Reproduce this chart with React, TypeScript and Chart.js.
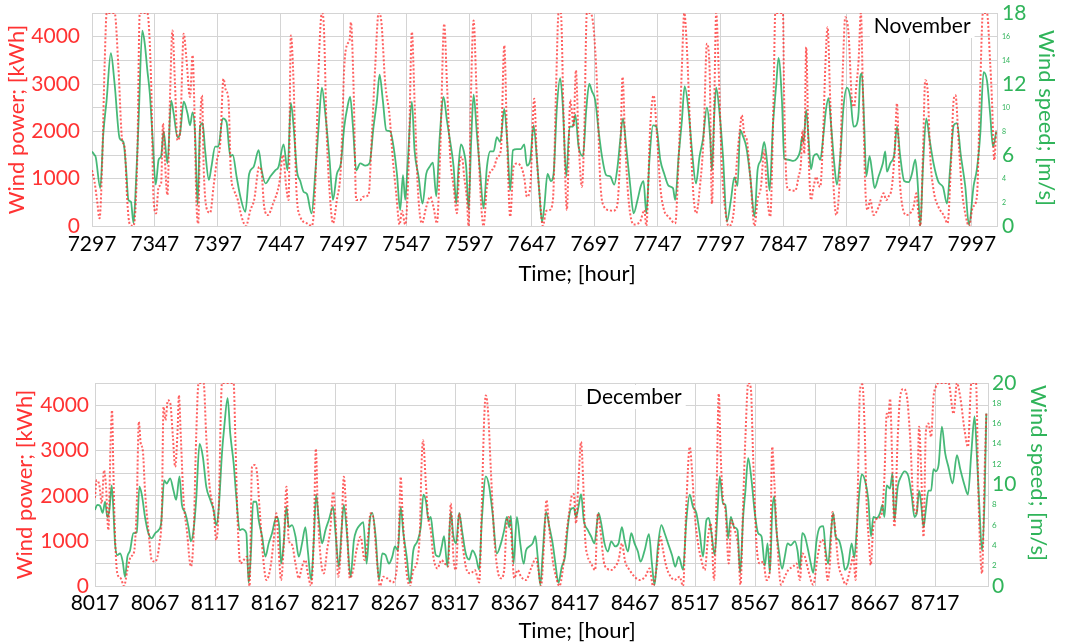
import { useEffect, useRef } from 'react';
import { Chart, registerables } from 'chart.js';
Chart.register(...registerables);

const FONT = 'Lato, "Open Sans", sans-serif';
const RED_LINE = 'rgba(255, 35, 35, 0.72)';
const RED_TEXT = '#ff3333';
const GREEN_LINE = 'rgba(30, 170, 90, 0.82)';
const GREEN_TEXT = '#30b45a';
const GRID = '#d4d4d4';

// ---------------- November ----------------
const novHourTicks = [7297, 7347, 7397, 7447, 7497, 7547, 7597, 7647, 7697, 7747, 7797, 7847, 7897, 7947, 7997];
const novPowerHours = [
  7297,7299,7301,7303,7305,7307,7308.7,7315,7318,7321,7323,7325,7327,7330,7333,7335,7341,7344,7346,7348,
  7350,7352,7353.5,7355,7357,7359,7361,7363,7365,7367,7370,7372,7375,7377,7378.5,7380,7381.5,7383,7384.5,7386,
  7388.6,7391,7393.7,7396.4,7399,7401.6,7403.5,7405.6,7407.5,7410,7413,7416,7419.5,7423,7426,7430,7432,7434,7437,7441,
  7446,7448.9,7451.5,7453.4,7455.2,7457.4,7459.5,7462.7,7468,7471.9,7474.6,7477.3,7479.9,7481.2,7483.9,7486.5,7488.7,7491.8,7495,7497.7,
  7500.3,7501.9,7503,7505.1,7507.2,7510.4,7513,7517,7519.7,7522.3,7525,7527.1,7530.3,7533.7,7536.4,7539,7541.7,7543.6,7546.2,7548.9,
  7551.5,7553.6,7556.3,7559.5,7562.9,7566.1,7568.7,7571.4,7574,7577.2,7579.4,7582,7584.7,7587.3,7589.4,7591.3,7593.1,7595.3,7596.6,7598.4,
  7600.6,7602.7,7605.3,7608.5,7611.2,7613.8,7616.5,7619.7,7622.3,7625,7627.1,7629.7,7632.4,7635,7639,7641,7643,7645.7,7648.8,7651,
  7653,7655.7,7658.4,7661,7663.7,7666.3,7668.2,7670,7672.2,7674.8,7677.5,7678.8,7680.1,7682,7684.1,7686.8,7688.6,7690.7,7693.4,7696,
  7698.7,7701.3,7704.5,7708,7711.4,7714.6,7717.3,7719.1,7721.2,7723.9,7727.9,7733.2,7736.4,7738,7741.1,7743.8,7746.4,7749.1,7752.3,7755.7,
  7761,7763.7,7766.3,7768.2,7770.3,7773,7775.6,7777.7,7780.9,7783.6,7786.2,7788.3,7790.2,7792.1,7793.6,7795.5,7798.1,7800.8,7803.5,7807.4,
  7810.1,7812.7,7814,7815.9,7818,7820.7,7824.1,7826.5,7829.2,7831.8,7833.9,7836.6,7839.2,7840.6,7846.7,7847.7,7849.9,7852.5,7856.5,7859.1,
  7861,7862.3,7863.7,7865.2,7867.1,7869,7871.1,7873.2,7875,7876.4,7878.5,7880.4,7882.2,7884.3,7887,7889.1,7891.8,7894.4,7896.3,7898.9,
  7901.6,7903.4,7905,7906.9,7908.7,7910.3,7912.2,7914,7916.2,7918.8,7922.8,7926.8,7928.9,7930.7,7933.4,7935.5,7937.4,7939.5,7941.4,7945.3,
  7948,7950.6,7952.8,7954.6,7956,7958.1,7959.9,7961.8,7963.9,7966.5,7970.5,7974.5,7977.7,7980.3,7982.5,7984,7986.4,7989.1,7991.7,7994.7,
  7997.8,8001,8003.7,8005.8,8009,8011.6,8013,8014.8,8016.4,
];
const novPowerKWh = [
  1180,935,550,162,1250,3360,4500,4500,3360,1810,1660,550,40,0,1390,4500,4500,3080,550,267,
  830,900,2165,1390,655,2660,4130,3010,1810,1955,4060,3570,2725,3605,2445,553,50,2095,2760,1110,
  337,280,830,1390,1740,3110,2865,2660,1110,760,550,197,0,337,550,1250,1110,400,230,470,
  900,1497,830,550,4026,3010,830,197,57,0,830,3360,4500,4340,1810,550,57,550,1250,3360,
  3850,3920,4305,2935,550,550,620,655,1955,3360,4500,4340,3010,2340,1390,690,30,320,30,1250,
  4100,2660,760,57,400,620,400,57,1530,4270,3010,1460,830,270,1320,1460,1040,550,0,2660,
  4340,3010,1110,0,830,1145,1215,1460,1600,3815,1955,197,1250,1320,1215,1000,620,830,2690,1390,
  690,0,320,337,550,3010,4500,4500,2305,337,2660,2410,2095,3290,1810,830,1955,4500,4500,4200,
  3010,970,400,337,320,400,1530,3150,1740,550,30,100,337,0,2095,2760,1955,830,320,197,
  57,1390,3360,4500,3750,1955,620,270,900,1880,3850,3360,470,2660,4500,3360,1250,337,0,270,
  1390,2095,2340,1955,1810,1040,0,550,830,1600,725,197,2660,4500,4500,2660,830,760,745,1040,
  1320,2025,1530,3780,1530,550,830,1040,865,830,1810,3360,4200,2660,830,232,970,3360,4410,4060,
  2660,2520,2940,3500,4500,2865,830,337,550,232,400,690,550,620,830,1530,2590,1040,470,232,
  270,400,690,232,0,1530,3080,2865,1460,760,400,232,57,1250,2660,2760,1810,760,270,0,
  400,620,3010,4500,4500,3430,2660,1390,2025,
];
const novWindHours = [
  7297,7299,7300,7303.6,7306,7308.6,7312,7315,7319,7322,7324,7326,7328,7330,7331.5,7334,7337,7339,7341,7343,
  7345,7347.7,7350,7352,7354,7357,7360,7362,7365,7367,7370,7373,7375,7377,7379,7381,7383,7385,7387,7390,
  7392,7395,7397.5,7401,7404,7407,7409,7412,7415,7419,7422,7425.6,7429.6,7432,7435,7439,7442.8,7445.4,7449.4,7452.6,
  7455.2,7457.4,7460,7462.7,7465.3,7468,7471.7,7474.6,7477.3,7479.9,7482.6,7486,7488.7,7491.8,7495,7497.7,7500.3,7502.4,7504.6,7507.2,
  7510.4,7514.4,7517.8,7521,7523.7,7525.8,7528.4,7531.1,7534.3,7536.9,7539.6,7542.2,7544.4,7546.2,7548,7551.5,7553.6,7556.8,7560,7562.9,
  7565.6,7568.2,7570.9,7573.5,7576.7,7579.4,7582,7584.7,7586.8,7588.6,7590.5,7592.6,7594.7,7596.6,7598.7,7600.6,7603.2,7605.9,7608.5,7611.2,
  7613.8,7616.5,7619.1,7621.8,7625,7627.6,7629.7,7631.9,7635,7638.2,7640.9,7643,7645.7,7648.3,7651,7653,7655,7656.8,7659.4,7662.1,
  7664.2,7666.9,7669.5,7671.6,7674.3,7677,7679.6,7681.5,7684.1,7687.6,7690.2,7692.6,7694.7,7697.4,7700,7702.7,7706.1,7709.3,7712.5,7715.1,
  7717.3,7719.4,7722,7725.2,7727.9,7731,7733.7,7735.8,7738,7740.6,7743.3,7745.9,7749.1,7752.3,7755.7,7759.2,7761,7763.7,7766.3,7768.5,
  7771.6,7774.3,7777.5,7780.4,7783,7786.2,7788.9,7790.2,7792.1,7793.6,7796.3,7799,7802.1,7805.3,7808,7810.6,7812.7,7814.9,7817.5,7820.7,
  7824.1,7826.5,7829.2,7831.8,7833.9,7836.1,7838.7,7841.4,7843.2,7845.9,7847.7,7851,7855,7857.8,7860.5,7861.8,7863.1,7865.2,7867.1,7869,
  7871.1,7873.7,7876.4,7879,7880.9,7883,7885.1,7887.5,7889.6,7892.3,7894.9,7897.6,7900.3,7902.9,7905,7906.9,7908.2,7909.5,7911.4,7913,
  7915.6,7917.5,7919.6,7922.8,7926.2,7928.1,7929.4,7932.1,7935.3,7937.4,7940,7943.2,7946.7,7949.3,7952,7953.8,7956,7958.1,7960.7,7963.4,
  7966.5,7970.5,7974,7977.2,7979.8,7982.5,7985.1,7988.3,7991.7,7994.7,7998.4,8001,8003.7,8006.3,8009,8011.6,8013.8,8016.4,
];
const novWindMs = [
  6.3,6.0,5.8,3.2,7.8,10.6,14.6,12.0,7.4,7.1,5.0,2.2,2.05,0.25,2.5,8.7,16.5,15.4,13.2,11.2,
  7.8,3.5,5.6,5.9,8.0,5.3,10.6,9.5,7.5,7.8,10.5,9.5,8.5,9.6,7.8,1.8,8.4,8.7,6.4,3.9,
  5.0,6.7,6.7,9.1,8.8,5.9,6.0,4.2,2.5,1.2,4.4,5.0,6.4,4.7,3.6,4.2,4.7,5.0,6.9,4.7,
  10.4,8.4,4.7,3.8,2.9,2.7,1.07,4.4,8.4,11.7,9.5,5.6,2.2,4.4,5.3,8.4,10.1,10.9,8.4,4.7,
  5.3,5.1,5.3,8.4,10.6,12.8,10.6,8.1,8.0,6.7,4.4,1.35,4.3,2.2,5.0,10.5,6.4,4.2,1.9,4.4,
  5.0,5.35,2.5,7.3,10.9,8.9,7.1,5.0,1.9,5.0,6.9,6.4,5.0,1.4,7.3,11.1,7.8,4.4,1.5,5.0,
  6.3,6.3,7.5,7.1,9.9,6.7,3.0,6.4,6.5,6.5,6.9,5.1,5.6,8.5,5.6,2.7,0.36,1.6,4.4,3.8,
  4.4,10.1,12.5,10.1,4.2,8.4,8.4,9.4,6.7,5.9,9.8,12.0,11.4,10.6,8.1,5.9,4.3,4.2,3.5,5.0,
  7.3,9.1,6.7,3.4,1.07,2.2,3.4,3.8,1.07,5.8,8.5,8.4,5.6,4.4,3.4,3.2,2.2,5.9,8.9,11.8,
  9.8,6.4,3.6,5.9,7.3,10.0,7.3,4.7,9.5,11.7,9.5,5.9,0.36,2.2,4.1,3.4,8.1,7.6,6.7,4.2,
  0.8,4.7,5.6,7.1,5.6,3.0,8.4,12.0,14.2,10.6,5.7,5.6,5.5,5.7,6.4,7.5,7.1,9.8,7.3,4.8,
  5.9,6.1,5.6,7.8,9.8,10.8,8.4,5.3,3.5,5.9,10.1,11.7,10.9,8.4,8.5,9.6,12.6,12.9,8.4,4.2,
  5.9,4.7,3.2,4.2,5.3,6.3,4.6,5.3,6.1,8.4,5.9,3.8,3.7,4.4,5.6,3.8,0,5.0,9.1,7.3,
  5.3,3.7,3.3,1.9,5.0,8.5,8.7,5.9,3.4,0.1,3.4,4.8,7.8,13.0,12.3,9.4,6.7,8.0,
];

// ---------------- December ----------------
const decHourTicks = [8017, 8067, 8117, 8167, 8217, 8267, 8317, 8367, 8417, 8467, 8517, 8567, 8617, 8667, 8717];
const decPowerHours = [
  8017,8018.4,8020.6,8022.6,8024.5,8026.2,8028.1,8030.1,8031.2,8032.3,8033.7,8035.6,8038.4,8041.2,8044,8046.8,8049.6,8051.8,8053.5,8055.1,
  8056.8,8058.8,8061.5,8064.3,8067.1,8070.7,8072.7,8074.1,8075.7,8077.7,8079.6,8081.9,8083.8,8085.8,8086.9,8088.5,8090.8,8093.5,8096.9,8099.1,
  8101.3,8103.3,8107.5,8109.7,8112.5,8115.8,8118,8120,8122.8,8132.5,8133.9,8135.8,8138.1,8140.9,8143.6,8145.8,8147.8,8149.8,8151.7,8154.2,
  8157,8159.8,8163.1,8165.9,8168.1,8170,8172,8174.2,8176.5,8178.4,8181.2,8184,8186.8,8189.5,8192.3,8194.3,8197.1,8199.3,8201,8202.6,
  8204.9,8207.6,8210.4,8213.2,8215.4,8217.4,8219.6,8222.1,8224.3,8226.6,8229.3,8232.1,8234.9,8238.3,8241.6,8244.4,8246.6,8248.8,8251.6,8254.4,
  8257.2,8260.5,8264.7,8268.3,8270.3,8271.7,8273.1,8275.8,8279.4,8282.2,8285.6,8287.8,8288.9,8290.3,8292.5,8294.5,8296.7,8298.9,8302.3,8305.6,
  8308.4,8311.2,8313.4,8315.6,8317.6,8320.4,8323.1,8326.7,8330.1,8333.4,8337.1,8339.3,8341.2,8342.6,8344.6,8346.8,8349.6,8352.4,8355.2,8357.9,
  8360.2,8361.6,8363.5,8366.3,8369.1,8372,8376.1,8380.3,8384.4,8386.4,8388.6,8391.4,8393.1,8395.6,8398.3,8401.1,8403.9,8406.7,8409.5,8412.3,
  8414.2,8415.9,8417.8,8419.8,8422,8423.7,8425.3,8427.6,8430.3,8433.7,8435.9,8438.1,8440.9,8443.7,8447.1,8450.4,8453.2,8456,8458.7,8462.4,
  8466.5,8470.7,8475.4,8479.1,8481.9,8484.6,8488.2,8490.2,8493,8496.6,8499.9,8504.1,8506.9,8509.7,8512.5,8514.4,8516.6,8519.4,8522.2,8525,
  8527.8,8530,8532.8,8534.7,8536.7,8538.3,8540.3,8542.2,8545,8547.2,8550,8552.8,8554.8,8557,8558.9,8561.2,8563.4,8565.3,8568.1,8570.9,
  8573.7,8576.5,8579.3,8581.2,8582.9,8585.7,8588.5,8591.7,8594.5,8598.7,8601.5,8604.3,8606.2,8608.4,8611.2,8615.4,8619,8622.4,8624.6,8627.4,
  8629.3,8631.5,8633.5,8636.3,8639.6,8642.4,8646,8648.8,8650.7,8652.4,8654.4,8656.3,8658,8659.9,8661.9,8663.3,8665.5,8669.1,8672.5,8674.7,
  8676.6,8678,8679.4,8681.4,8683,8685.8,8687.8,8690.5,8693.3,8696.1,8698.9,8701.7,8703.6,8705.3,8707.3,8709.2,8711.4,8713.6,8715.6,8717.5,
  8719.8,8728.1,8732.3,8735.1,8737.9,8741.5,8744.3,8747.1,8751,8753.2,8756,8758.2,8759.6,
];
const decPowerKWh = [
  1955,2345,2240,1830,2565,2200,1240,3305,3895,2565,1090,280,170,0,354,650,760,1830,3640,3160,
  3010,2050,1240,575,540,945,1680,3970,3675,4115,4065,3305,2640,3450,4225,3305,1905,1240,430,1090,
  3305,4500,4500,3305,2200,1680,1020,1680,4500,4500,3305,1460,500,575,650,0,2640,2680,2565,1680,
  650,133,400,1020,1610,800,133,870,2200,1020,910,500,170,430,575,280,0,1090,3045,1680,
  650,280,800,1310,2090,1460,205,945,2420,1460,170,354,800,1090,575,1090,1610,1530,650,0,
  205,170,80,354,1310,2420,1680,500,0,354,575,1310,2565,3230,2345,1530,1240,650,390,575,
  500,430,1830,650,354,1610,945,354,280,354,80,1830,3675,4225,3820,2565,1090,354,170,354,
  1460,1530,1240,170,354,205,133,390,610,354,0,1090,1905,1240,575,205,0,354,1090,1680,
  2000,2040,1390,2345,3195,2345,1090,650,500,354,1610,1240,540,390,354,430,575,945,540,354,
  205,133,205,390,0,354,1090,800,430,205,133,205,0,1830,3085,2565,1610,945,575,354,
  1090,1390,133,1830,4265,2875,1905,1680,500,1460,1240,870,30,1830,3305,4500,4385,2875,945,500,
  540,133,354,3085,2345,870,30,205,354,430,500,133,720,650,354,30,650,1020,945,133,
  500,1640,1310,500,205,30,354,650,133,1975,4360,4470,3675,1830,945,465,1310,1500,1610,2420,
  3820,3750,4150,2565,1310,3305,4185,4370,4225,3305,1830,1610,3530,2565,1090,3420,3600,3305,4185,4410,
  4500,4500,3820,4500,4185,3450,3085,4500,4500,1830,280,2565,3820,
];
const decWindHours = [
  8017,8019,8021.2,8023.4,8025.4,8027.3,8029,8030.9,8032.3,8033.7,8035.6,8037.9,8040.1,8042,8044,8046.2,8049,8051.8,8054,8056,
  8058.8,8061.5,8064.3,8067.1,8069.9,8072.1,8074.6,8076.8,8079.6,8082.4,8084.6,8087.4,8089.4,8092.2,8094.9,8096.9,8099.1,8101.3,8104.1,8106.9,
  8109.7,8113,8115.8,8118,8120,8122.8,8124.7,8127.5,8129.7,8132.5,8134.7,8137.5,8139.5,8143.1,8145,8147,8148.7,8151.4,8153.4,8156.2,
  8159,8161.7,8164.5,8168.1,8170.5,8172,8174.2,8176.5,8178.4,8181.2,8184,8186.8,8189.5,8192.3,8194.3,8197.1,8199.3,8201.2,8203.5,8206.2,
  8209,8211.8,8215.4,8217.4,8220.2,8222.4,8224.3,8227.1,8229.9,8232.7,8234.9,8237.7,8240.5,8243.3,8246,8248,8250.8,8253.6,8256.3,8259.1,
  8261.9,8264.7,8266.9,8269.4,8271.7,8273.9,8276.7,8279.4,8282.2,8285.6,8288.4,8290.6,8292.8,8294.8,8296.7,8298.7,8300.9,8303.7,8305.9,8307.8,
  8310.6,8313.4,8315.6,8317.9,8320.4,8323.1,8325.9,8328.7,8331.5,8334.3,8337.1,8339.3,8342.6,8345.4,8348.2,8351.8,8355.2,8357.9,8360.2,8362.1,
  8363.5,8365.7,8368.5,8371.3,8374.1,8376.1,8378.9,8381.6,8383.9,8385.8,8388,8390,8392.8,8395.6,8398.3,8400.6,8403.1,8405.9,8408.6,8410.9,
  8413.1,8415.9,8417.8,8419.8,8422,8424.2,8427.6,8430.3,8433.1,8436.5,8438.7,8441.5,8444.3,8447.1,8450.4,8453.2,8456,8458.2,8461,8463.8,
  8466.5,8469.3,8471.5,8474.9,8478.5,8481,8483.2,8486,8488.8,8491.6,8494.4,8497.7,8500.5,8503.3,8506.9,8509.7,8512.5,8515.2,8518,8520.8,
  8523.6,8526.4,8528.3,8530.6,8533.3,8535.6,8537.5,8540.3,8542.2,8544.5,8546.7,8549.5,8552.3,8554.5,8557,8558.9,8561.2,8564,8566.7,8569.5,
  8572.3,8575.1,8577.3,8579.3,8581.2,8582.9,8584.5,8586.7,8589.5,8591.7,8594,8596.7,8600.1,8602.3,8604.3,8606.2,8608.4,8611.2,8613.4,8615.4,
  8618.2,8621,8623.8,8625.7,8627.9,8629.9,8632.1,8634,8636.8,8639.6,8641.8,8644.6,8647.4,8649.6,8651.6,8653.5,8655.8,8658.5,8661.3,8663.5,
  8665.5,8668.3,8671.1,8673,8674.7,8676.6,8679.4,8681.4,8683,8685.8,8688.6,8691.4,8694.7,8697.5,8699.7,8701.7,8703.6,8705.3,8707.3,8709.2,
  8711.4,8713.6,8715.6,8717.5,8719.8,8722.6,8725.3,8728.1,8731.5,8735.1,8737.9,8741.5,8744.3,8747.1,8749.8,8751.8,8753.7,8756,8758.2,8759.6,
];
const decWindMs = [
  7.5,8.0,7.9,7.2,8.3,6.8,7.5,9.9,7.5,4.2,3.05,3.2,2.4,0.9,2.9,3.5,5.2,5.3,9.8,9.0,
  6.7,5.2,4.7,5.2,5.5,6.2,10.4,10.1,10.6,9.4,8.5,10.8,8.0,7.2,5.8,4.4,5.5,8.5,14.0,12.7,
  9.8,8.5,7.5,6.0,7.5,13.1,15.7,18.5,15.0,12.1,8.8,5.5,5.6,5.2,0.3,3.5,8.3,8.3,6.5,4.9,
  2.9,4.2,5.2,6.8,5.8,2.2,4.2,7.8,5.8,6.0,4.9,2.9,4.2,5.8,3.5,0.6,4.5,9.0,6.5,4.2,
  5.5,6.5,7.8,5.2,1.9,5.5,8.0,4.9,0.9,4.5,5.5,6.0,6.3,2.2,6.5,7.2,4.9,0.6,3.2,3.05,
  2.2,2.9,3.9,3.5,7.8,5.2,2.9,0.3,3.5,4.4,5.8,9.0,8.3,6.5,6.8,4.9,3.05,2.9,3.9,4.9,
  1.9,7.3,4.9,4.2,7.2,5.2,3.2,2.6,3.5,2.9,1.6,6.5,10.8,9.8,7.2,3.2,4.2,5.5,6.8,5.8,
  6.9,2.2,6.8,4.2,2.2,3.5,3.9,4.2,4.9,2.9,0.1,3.2,7.3,5.8,4.2,2.2,0.3,1.9,2.9,5.8,
  7.5,7.7,6.8,7.8,9.05,6.5,5.5,4.9,4.2,7.2,6.2,4.2,3.4,4.4,3.9,4.2,5.8,4.5,3.4,5.2,
  4.2,3.4,2.4,3.5,5.1,2.2,0.1,3.9,6.0,5.2,4.2,3.05,1.9,2.9,1.6,6.5,9.0,7.8,7.2,5.2,
  2.9,6.5,6.7,5.2,3.05,7.2,10.8,8.1,8.0,4.7,6.8,5.8,5.5,1.3,6.8,9.4,12.6,10.4,7.2,5.2,
  4.9,2.0,4.2,1.3,7.3,8.8,5.8,3.5,1.7,2.9,4.2,4.0,4.4,3.5,1.7,5.2,4.9,3.5,2.2,1.3,
  4.5,5.8,5.9,3.5,2.2,4.9,7.2,4.9,4.5,3.2,1.6,2.2,4.2,2.8,5.5,8.8,11.0,10.4,8.5,4.9,
  6.8,6.7,7.2,8.0,6.8,9.9,9.6,11.1,6.5,9.8,10.8,11.3,10.8,8.8,6.8,7.2,9.4,8.1,5.8,7.5,
  9.4,9.4,11.5,11.3,11.9,15.7,13.1,11.7,10.1,12.9,11.5,9.9,9.0,13.1,16.7,12.7,8.1,3.5,8.8,17.0,
];

type Panel = {
  xTicks: number[]; xMin: number; xMax: number;
  powerHours: number[]; power: number[]; windHours: number[]; wind: number[];
  windMax: number; windBig: number[]; month: string; monthHour: number;
  leftW: number; rightW: number; xH: number; padTop: number;
  leftTitlePad: number; xTickPad: number; leftTickPad: number; rightTickPad: number;
  smallSize: number; monthDy: number;
  xTitleX: number; xTitleY: number; rTitleX: number; rTitleY: number;
};

const textPlugin = {
  id: 'panelText',
  afterDatasetsDraw(chart: any, _args: any, opts: any) {
    const { ctx, chartArea, scales } = chart;
    ctx.save();
    const mx = scales.x.getPixelForValue(opts.hour);
    const my = chartArea.top + opts.dy;
    ctx.font = `21px ${FONT}`;
    const w = ctx.measureText(opts.month).width;
    ctx.fillStyle = '#ffffff';
    ctx.fillRect(mx - w / 2 - 4, my - 12, w + 8, 24);
    ctx.fillStyle = '#000000';
    ctx.textAlign = 'center';
    ctx.textBaseline = 'middle';
    ctx.fillText(opts.month, mx, my);
    ctx.restore();
  },
  afterDraw(chart: any, _args: any, opts: any) {
    const { ctx } = chart;
    ctx.save();
    ctx.font = `22px ${FONT}`;
    ctx.textAlign = 'center';
    ctx.textBaseline = 'middle';
    ctx.fillStyle = '#000000';
    ctx.fillText(opts.xTitle, opts.xTitleX, opts.xTitleY);
    ctx.translate(opts.rTitleX, opts.rTitleY);
    ctx.rotate(Math.PI / 2);
    ctx.fillStyle = GREEN_TEXT;
    ctx.fillText(opts.rTitle, 0, 0);
    ctx.restore();
  },
};

function buildConfig(p: Panel): any {
  const nP = Math.min(p.powerHours.length, p.power.length);
  const nW = Math.min(p.windHours.length, p.wind.length);
  const powerData = p.powerHours.slice(0, nP).map((h, i) => ({ x: h, y: p.power[i] }));
  const windData = p.windHours.slice(0, nW).map((h, i) => ({ x: h, y: p.wind[i] }));
  return {
    type: 'line',
    data: {
      datasets: [
        {
          label: 'Wind power', data: powerData, yAxisID: 'yP',
          borderColor: RED_LINE, borderWidth: 2, borderDash: [2, 2],
          pointRadius: 0, cubicInterpolationMode: 'monotone', fill: false,
        },
        {
          label: 'Wind speed', data: windData, yAxisID: 'yW',
          borderColor: GREEN_LINE, borderWidth: 1.8,
          pointRadius: 0, cubicInterpolationMode: 'monotone', fill: false,
        },
      ],
    },
    options: {
      responsive: false,
      animation: false,
      devicePixelRatio: 1,
      events: [],
      layout: { padding: { top: p.padTop, left: 0, right: 0, bottom: 0 } },
      plugins: {
        legend: { display: false },
        tooltip: { enabled: false },
        panelText: {
          month: p.month, hour: p.monthHour, dy: p.monthDy,
          xTitle: 'Time; [hour]', xTitleX: p.xTitleX, xTitleY: p.xTitleY,
          rTitle: 'Wind speed; [m/s]', rTitleX: p.rTitleX, rTitleY: p.rTitleY,
        },
      },
      scales: {
        x: {
          type: 'linear', min: p.xMin, max: p.xMax,
          afterBuildTicks: (s: any) => { s.ticks = p.xTicks.map((v) => ({ value: v })); },
          afterFit: (s: any) => { s.height = p.xH; s.paddingLeft = 0; s.paddingRight = 0; },
          ticks: {
            font: { family: FONT, size: 21 }, color: '#000', padding: p.xTickPad,
            autoSkip: false, maxRotation: 0, callback: (v: any) => String(v),
          },
          grid: { color: GRID, drawTicks: false },
          border: { color: GRID },
        },
        yP: {
          type: 'linear', position: 'left', min: 0, max: 4500,
          afterFit: (s: any) => { s.width = p.leftW; s.paddingTop = 0; s.paddingBottom = 0; },
          ticks: {
            stepSize: 500, font: { family: FONT, size: 21 }, color: RED_TEXT, padding: p.leftTickPad,
            autoSkip: false, callback: (v: any) => (v % 1000 === 0 ? String(v) : ''),
          },
          grid: { color: GRID, drawTicks: false },
          border: { color: GRID },
          title: {
            display: true, text: 'Wind power; [kWh]', color: RED_TEXT,
            font: { family: FONT, size: 22 }, padding: { top: p.leftTitlePad, bottom: 0 },
          },
        },
        yW: {
          type: 'linear', position: 'right', min: 0, max: p.windMax,
          afterFit: (s: any) => { s.width = p.rightW; s.paddingTop = 0; s.paddingBottom = 0; },
          ticks: {
            stepSize: 2, color: GREEN_TEXT, padding: p.rightTickPad, autoSkip: false,
            font: (ctx: any) => ({
              family: FONT,
              size: ctx.tick && p.windBig.includes(ctx.tick.value) ? 21 : p.smallSize,
            }),
            callback: (v: any) => String(v),
          },
          grid: { display: false, drawTicks: false },
          border: { color: GRID },
        },
      },
    },
    plugins: [textPlugin],
  };
}

const novPanel: Panel = {
  xTicks: novHourTicks, xMin: 7297, xMax: 8017,
  powerHours: novPowerHours, power: novPowerKWh, windHours: novWindHours, wind: novWindMs,
  windMax: 18, windBig: [0, 6, 12, 18], month: 'November', monthHour: 7957.5,
  leftW: 92, rightW: 71, xH: 64, padTop: 13,
  leftTitlePad: 4, xTickPad: 6, leftTickPad: 12, rightTickPad: 5, smallSize: 7, monthDy: 13,
  xTitleX: 577, xTitleY: 274, rTitleX: 1046, rTitleY: 118,
};

const decPanel: Panel = {
  xTicks: decHourTicks, xMin: 8017, xMax: 8761,
  powerHours: decPowerHours, power: decPowerKWh, windHours: decWindHours, wind: decWindMs,
  windMax: 20, windBig: [0, 10, 20], month: 'December', monthHour: 8466,
  leftW: 95, rightW: 80, xH: 57, padTop: 13,
  leftTitlePad: 12, xTickPad: 5, leftTickPad: 6, rightTickPad: 4, smallSize: 8, monthDy: 14,
  xTitleX: 577, xTitleY: 261, rTitleX: 1038, rTitleY: 103,
};

function PanelChart({ panel, top, height }: { panel: Panel; top: number; height: number }) {
  const ref = useRef<HTMLCanvasElement>(null);
  useEffect(() => {
    const chart = new Chart(ref.current as HTMLCanvasElement, buildConfig(panel));
    return () => chart.destroy();
  }, [panel]);
  return (
    <canvas
      ref={ref}
      width={1068}
      height={height}
      style={{ position: 'absolute', left: 0, top, width: 1068, height, display: 'block' }}
    />
  );
}

export default function App() {
  return (
    <div style={{ position: 'fixed', left: 0, top: 0, width: 1068, height: 643, background: '#fff', overflow: 'hidden' }}>
      <PanelChart panel={novPanel} top={0} height={290} />
      <PanelChart panel={decPanel} top={370} height={273} />
    </div>
  );
}
